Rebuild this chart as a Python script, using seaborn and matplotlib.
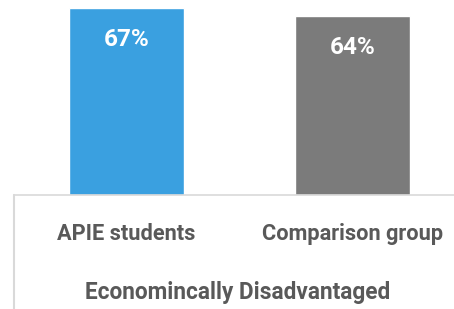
import matplotlib
matplotlib.use("Agg")

import matplotlib.pyplot as plt
from matplotlib import font_manager
import pandas as pd
import seaborn as sns

# data
groups = ["APIE students", "Comparison group"]
rates = [67, 64]
bar_colors = ["#3aa0e0", "#7b7b7b"]
group_title = "Economincally Disadvantaged"

sns.set_theme(style="white")
names = {f.name for f in font_manager.fontManager.ttflist}
narrow = "Liberation Sans Narrow" if "Liberation Sans Narrow" in names else "Roboto"
plt.rcParams["font.family"] = [narrow, "DejaVu Sans"]

df = pd.DataFrame({"group": groups, "rate": rates})

fig = plt.figure(figsize=(4.54, 3.09), dpi=100)
ax = fig.add_axes([13.5 / 454, 114 / 309, 440.5 / 454, 195 / 309])

sns.barplot(data=df, x="group", y="rate", hue="group", palette=bar_colors,
            width=0.51, saturation=1, legend=False, ax=ax)

ax.set_ylim(0, 69.9)
ax.set_xlim(-0.5, 1.449)

for i, v in enumerate(rates):
    ax.text(i, v - 11.2, f"{v}%", ha="center", va="center",
            color="white", fontsize=17.5, fontweight="bold")

for side in ["top", "right", "left"]:
    ax.spines[side].set_visible(False)
ax.spines["bottom"].set_color("#d9d9d9")
ax.spines["bottom"].set_linewidth(1.2)
# category divider running down from the axis
ax.plot([0, 0], [0, -0.6], transform=ax.transAxes, clip_on=False,
        color="#d9d9d9", lw=1.5)

ax.set_yticks([])
ax.tick_params(axis="x", length=0, pad=20, labelsize=15.7, labelcolor="#595959")
for lbl in ax.get_xticklabels():
    lbl.set_fontweight("bold")
ax.set_ylabel("")
ax.set_xlabel(group_title, fontsize=16.3, fontweight="bold", color="#595959")
ax.xaxis.set_label_coords(224 / 440.5, -98 / 195)
ax.xaxis.get_label().set_va("center")

fig.savefig("out.png", dpi=100)
